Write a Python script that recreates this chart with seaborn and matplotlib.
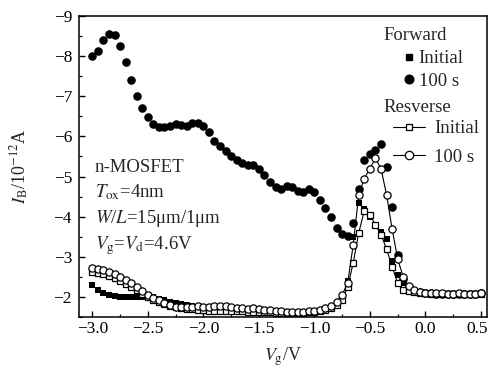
import matplotlib
matplotlib.use("Agg")
import numpy as np
import pandas as pd
import seaborn as sns
import matplotlib.pyplot as plt
import matplotlib.transforms as mtransforms
from matplotlib.lines import Line2D
from matplotlib.ticker import MultipleLocator

# ---------------- data ----------------
vg = [-3.00, -2.95, -2.90, -2.85, -2.80, -2.75, -2.70, -2.65, -2.60, -2.55,
      -2.50, -2.45, -2.40, -2.35, -2.30, -2.25, -2.20, -2.15, -2.10, -2.05,
      -2.00, -1.95, -1.90, -1.85, -1.80, -1.75, -1.70, -1.65, -1.60, -1.55,
      -1.50, -1.45, -1.40, -1.35, -1.30, -1.25, -1.20, -1.15, -1.10, -1.05,
      -1.00, -0.95, -0.90, -0.85, -0.80, -0.75, -0.70, -0.65, -0.60, -0.55,
      -0.50, -0.45, -0.40, -0.35, -0.30, -0.25, -0.20, -0.15, -0.10, -0.05,
      0.00, 0.05, 0.10, 0.15, 0.20, 0.25, 0.30, 0.35, 0.40, 0.45, 0.50]

fwd_100s = [-8.00, -8.12, -8.40, -8.56, -8.53, -8.25, -7.85, -7.40, -7.00, -6.72,
            -6.48, -6.30, -6.24, -6.24, -6.25, -6.30, -6.28, -6.26, -6.33, -6.34,
            -6.26, -6.12, -5.88, -5.75, -5.63, -5.50, -5.42, -5.33, -5.28, -5.28,
            -5.20, -5.05, -4.86, -4.75, -4.69, -4.76, -4.73, -4.63, -4.62, -4.68,
            -4.62, -4.42, -4.22, -4.00, -3.72, -3.58, -3.52, -3.85, -4.70, -5.40,
            -5.55, -5.65, -5.82, -5.25, -4.24, -3.05, -2.45, -2.25, -2.15, -2.12,
            -2.10, -2.09, -2.08, -2.08, -2.07, -2.08, -2.08, -2.07, -2.08, -2.08, -2.09]

fwd_init = [-2.30, -2.18, -2.10, -2.06, -2.03, -2.01, -2.00, -1.99, -2.00, -2.01,
            -2.02, -2.00, -1.95, -1.92, -1.88, -1.85, -1.82, -1.80, -1.78, -1.76,
            -1.74, -1.72, -1.70, -1.69, -1.68, -1.67, -1.66, -1.65, -1.65, -1.64,
            -1.64, -1.63, -1.63, -1.62, -1.62, -1.62, -1.61, -1.61, -1.62, -1.62,
            -1.63, -1.65, -1.68, -1.72, -1.78, -1.95, -2.40, -3.50, -4.35, -4.20,
            -4.00, -3.78, -3.62, -3.45, -2.90, -2.55, -2.35, -2.20, -2.14, -2.12,
            -2.10, -2.09, -2.08, -2.08, -2.07, -2.08, -2.08, -2.07, -2.08, -2.08, -2.09]

rev_init = [-2.62, -2.60, -2.57, -2.52, -2.47, -2.40, -2.32, -2.25, -2.17, -2.08,
            -2.00, -1.93, -1.87, -1.82, -1.78, -1.74, -1.72, -1.70, -1.69, -1.68,
            -1.67, -1.66, -1.66, -1.65, -1.65, -1.66, -1.64, -1.64, -1.63, -1.63,
            -1.63, -1.62, -1.62, -1.61, -1.61, -1.60, -1.60, -1.61, -1.61, -1.62,
            -1.63, -1.65, -1.68, -1.72, -1.80, -1.92, -2.25, -2.85, -3.60, -4.15,
            -4.05, -3.80, -3.55, -3.20, -2.75, -2.35, -2.18, -2.14, -2.12, -2.10,
            -2.09, -2.08, -2.08, -2.07, -2.07, -2.08, -2.07, -2.07, -2.08, -2.07, -2.08]

rev_100s = [-2.72, -2.70, -2.68, -2.62, -2.58, -2.50, -2.42, -2.35, -2.25, -2.15,
            -2.05, -1.98, -1.92, -1.85, -1.80, -1.76, -1.76, -1.75, -1.75, -1.77,
            -1.76, -1.75, -1.78, -1.78, -1.77, -1.76, -1.72, -1.72, -1.70, -1.72,
            -1.70, -1.68, -1.67, -1.66, -1.64, -1.63, -1.63, -1.62, -1.63, -1.64,
            -1.66, -1.68, -1.72, -1.78, -1.88, -2.05, -2.35, -3.30, -4.55, -4.95,
            -5.20, -5.45, -5.20, -4.55, -3.70, -2.95, -2.50, -2.26, -2.17, -2.13,
            -2.11, -2.10, -2.09, -2.09, -2.08, -2.08, -2.09, -2.08, -2.08, -2.08, -2.09]

x_ticks = [-3.0, -2.5, -2.0, -1.5, -1.0, -0.5, 0.0, 0.5]
y_ticks = [-2, -3, -4, -5, -6, -7, -8, -9]

df = pd.DataFrame({"Vg": vg, "fwd_init": fwd_init, "fwd_100s": fwd_100s,
                   "rev_init": rev_init, "rev_100s": rev_100s})

# ---------------- style ----------------
sns.set_theme(style="ticks")
plt.rcParams["font.family"] = ["Liberation Serif", "DejaVu Serif"]
plt.rcParams["mathtext.fontset"] = "stix"
plt.rcParams["axes.unicode_minus"] = True

fig = plt.figure(figsize=(4.9, 3.69), dpi=100)
ax = fig.add_axes([79 / 490, 1 - 317 / 369, 408 / 490, 301 / 369])

# forward (markers only)
sns.scatterplot(data=df, x="Vg", y="fwd_init", marker="s", s=20, color="black",
                edgecolor="black", linewidth=0, ax=ax, zorder=2)
sns.scatterplot(data=df, x="Vg", y="fwd_100s", marker="o", s=38, color="black",
                edgecolor="black", linewidth=0, ax=ax, zorder=2)
# reverse (line + open markers)
sns.lineplot(data=df, x="Vg", y="rev_init", marker="s", markersize=4.6,
             markerfacecolor="white", markeredgecolor="black", markeredgewidth=0.9,
             color="black", linewidth=0.8, ax=ax, zorder=3)
sns.lineplot(data=df, x="Vg", y="rev_100s", marker="o", markersize=5.2,
             markerfacecolor="white", markeredgecolor="black", markeredgewidth=0.9,
             color="black", linewidth=0.8, ax=ax, zorder=3)

ax.set_xlim(-3.12, 0.555)
ax.set_ylim(-1.5, -9.0)
ax.set_xticks(x_ticks)
ax.set_yticks(y_ticks)
ax.set_xticklabels([f"{t:.1f}".replace("-", "\u2212") for t in x_ticks])
ax.set_yticklabels([f"{t:d}".replace("-", "\u2212") for t in y_ticks])
ax.xaxis.set_minor_locator(MultipleLocator(0.25))
ax.yaxis.set_minor_locator(MultipleLocator(0.5))
ax.tick_params(which="both", direction="in", top=False, right=False, colors="black")
ax.tick_params(which="major", length=4, width=1.0, labelsize=12.5)
ax.tick_params(axis="y", which="major", pad=5)
ax.tick_params(axis="x", which="major", pad=3)
ax.tick_params(which="minor", length=2.2, width=0.9)
for sp in ax.spines.values():
    sp.set_linewidth(1.1)
    sp.set_color("black")

# nudge the last x tick label so it stays inside the figure
last = ax.get_xticklabels()[-1]
last.set_transform(last.get_transform() +
                   mtransforms.ScaledTranslation(-4 / 100, 0, fig.dpi_scale_trans))

ax.set_xlabel(r"$V_{\mathrm{g}}$/V", fontsize=13)
ax.set_ylabel(r"$I_{\mathrm{B}}$/10$^{-12}$A", fontsize=13)
ax.xaxis.set_label_coords(0.5, -0.093)
ax.yaxis.set_label_coords(-0.118, 0.5)

# annotations
fs = 13.5
fig.text(95 / 490, 1 - 172 / 369, "n-MOSFET", fontsize=fs, va="baseline", ha="left")
fig.text(95 / 490, 1 - 197 / 369, r"$T_{\mathrm{ox}}$=4nm", fontsize=fs, va="baseline", ha="left")
fig.text(95 / 490, 1 - 223 / 369, r"$W$/$L$=15μm/1μm", fontsize=fs, va="baseline", ha="left")
fig.text(95 / 490, 1 - 249 / 369, r"$V_{\mathrm{g}}$=$V_{\mathrm{d}}$=4.6V", fontsize=fs, va="baseline", ha="left")

# legends
fig.text(383 / 490, 1 - 35 / 369, "Forward", fontsize=fs, va="center", ha="left")
fig.text(383 / 490, 1 - 107 / 369, "Resverse", fontsize=fs, va="center", ha="left")

h_fi = Line2D([], [], linestyle="none", marker="s", markersize=4.8, color="black")
h_f100 = Line2D([], [], linestyle="none", marker="o", markersize=6.2, color="black")
h_ri = Line2D([], [], color="black", linewidth=0.8, marker="s", markersize=5,
              markerfacecolor="white", markeredgecolor="black", markeredgewidth=0.9)
h_r100 = Line2D([], [], color="black", linewidth=0.8, marker="o", markersize=6,
                markerfacecolor="white", markeredgecolor="black", markeredgewidth=0.9)

leg1 = ax.legend(handles=[h_fi, h_f100], labels=["Initial", "100 s"], fontsize=fs,
                 frameon=False, loc="upper left", bbox_to_anchor=(401 / 490, 1 - 50 / 369),
                 bbox_transform=fig.transFigure, borderpad=0, borderaxespad=0,
                 handlelength=0.8, handletextpad=0.15, labelspacing=0.3)
ax.add_artist(leg1)
leg2 = ax.legend(handles=[h_ri, h_r100], labels=["Initial", "100 s"], fontsize=fs,
                 frameon=False, loc="upper left", bbox_to_anchor=(393 / 490, 1 - 120 / 369),
                 bbox_transform=fig.transFigure, borderpad=0, borderaxespad=0,
                 handlelength=1.7, handletextpad=0.5, labelspacing=0.6)

fig.savefig("out.png", dpi=100)
